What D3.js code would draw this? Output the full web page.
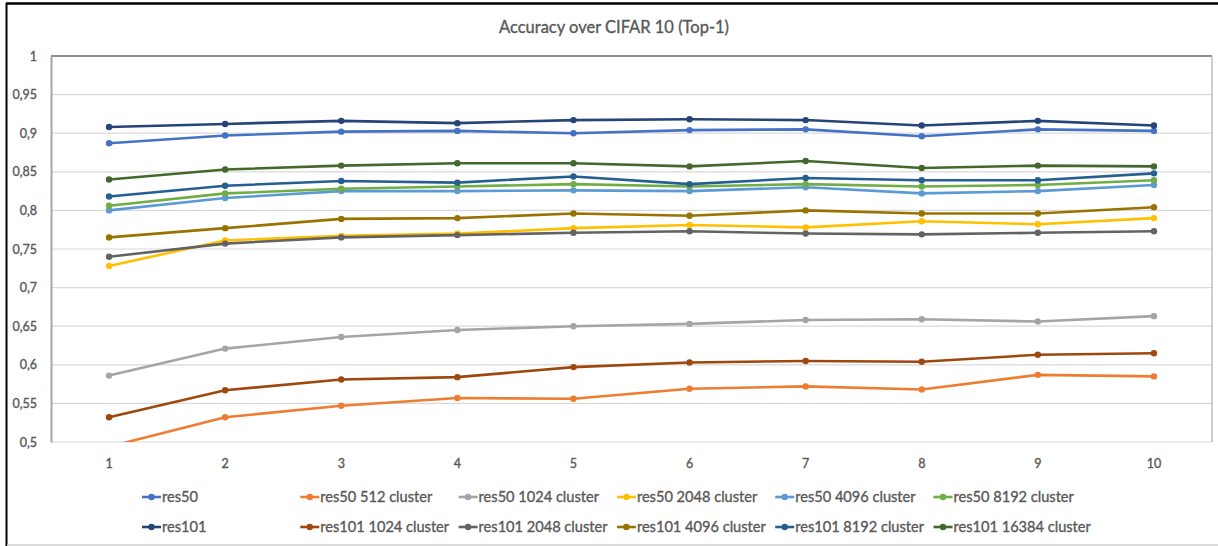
<!DOCTYPE html>
<html>
<head>
<meta charset="utf-8">
<script src="https://cdn.jsdelivr.net/npm/d3@7"></script>
<style>
  html, body { margin: 0; padding: 0; background: #fff; }
  #chart { width: 1218px; height: 546px; }
  text { font-family: Lato, "Open Sans", sans-serif; fill: #595959; stroke: #595959; stroke-width: 0.35px; }
</style>
</head>
<body>
<div id="chart"></div>
<script>
// Epochs on the x axis
const epochs = ["1", "2", "3", "4", "5", "6", "7", "8", "9", "10"];

// y axis ticks
const yTicks = [0.5, 0.55, 0.6, 0.65, 0.7, 0.75, 0.8, 0.85, 0.9, 0.95, 1];

// series names, in the legend order (column by column, two rows)
const seriesNames = [
    "res50", "res50 512 cluster", "res50 1024 cluster", "res50 2048 cluster",
    "res50 4096 cluster", "res50 8192 cluster",
    "res101", "res101 1024 cluster", "res101 2048 cluster", "res101 4096 cluster",
    "res101 8192 cluster", "res101 16384 cluster"
];

const seriesColors = [
    "#4472C4", "#ED7D31", "#A5A5A5", "#FFC000", "#5B9BD5", "#70AD47",
    "#264478", "#9E480E", "#636363", "#997300", "#255E91", "#43682B"
];

// values
const res50       = [0.887, 0.897, 0.902, 0.903, 0.900, 0.904, 0.905, 0.896, 0.905, 0.903];
const res50_512   = [0.494, 0.532, 0.547, 0.557, 0.556, 0.569, 0.572, 0.568, 0.587, 0.585];
const res50_1024  = [0.586, 0.621, 0.636, 0.645, 0.650, 0.653, 0.658, 0.659, 0.656, 0.663];
const res50_2048  = [0.728, 0.761, 0.767, 0.770, 0.777, 0.781, 0.778, 0.786, 0.782, 0.790];
const res50_4096  = [0.800, 0.816, 0.825, 0.825, 0.826, 0.825, 0.830, 0.822, 0.825, 0.833];
const res50_8192  = [0.806, 0.822, 0.828, 0.831, 0.834, 0.831, 0.834, 0.831, 0.833, 0.839];
const res101      = [0.908, 0.912, 0.916, 0.913, 0.917, 0.918, 0.917, 0.910, 0.916, 0.910];
const res101_1024 = [0.532, 0.567, 0.581, 0.584, 0.597, 0.603, 0.605, 0.604, 0.613, 0.615];
const res101_2048 = [0.740, 0.757, 0.765, 0.768, 0.771, 0.773, 0.770, 0.769, 0.771, 0.773];
const res101_4096 = [0.765, 0.777, 0.789, 0.790, 0.796, 0.793, 0.800, 0.796, 0.796, 0.804];
const res101_8192 = [0.818, 0.832, 0.838, 0.836, 0.844, 0.834, 0.842, 0.839, 0.839, 0.848];
const res101_16384 = [0.840, 0.853, 0.858, 0.861, 0.861, 0.857, 0.864, 0.855, 0.858, 0.857];

const seriesValues = [
    res50, res50_512, res50_1024, res50_2048, res50_4096, res50_8192,
    res101, res101_1024, res101_2048, res101_4096, res101_8192, res101_16384
];

const W = 1218, H = 546;
const plot = { left: 51, right: 1212, top: 56, bottom: 442 };

const svg = d3.select("#chart")
    .append("svg")
    .attr("width", W)
    .attr("height", H);

// outer frame of the screenshot
svg.append("line").attr("x1", 6).attr("x2", W).attr("y1", 3.5).attr("y2", 3.5)
    .attr("stroke", "#000").attr("stroke-width", 2.5);
svg.append("line").attr("x1", 6.5).attr("x2", 6.5).attr("y1", 3).attr("y2", H)
    .attr("stroke", "#000").attr("stroke-width", 2);
svg.append("line").attr("x1", 7).attr("x2", W).attr("y1", 545).attr("y2", 545)
    .attr("stroke", "#cfcfcf").attr("stroke-width", 1.5);

// title
svg.append("text")
    .attr("x", 614)
    .attr("y", 27)
    .attr("dy", "0.35em")
    .attr("text-anchor", "middle")
    .style("font-size", "16.5px")
    .text("Accuracy over CIFAR 10 (Top-1)");

const x = d3.scaleBand()
    .domain(epochs)
    .range([plot.left, plot.right]);
const xc = d => x(d) + x.bandwidth() / 2;

const y = d3.scaleLinear()
    .domain([0.5, 1])
    .range([plot.bottom, plot.top]);

// gridlines
svg.append("g")
    .selectAll("line")
    .data(yTicks.filter(d => d < 1))
    .enter()
    .append("line")
    .attr("x1", plot.left)
    .attr("x2", plot.right)
    .attr("y1", d => y(d))
    .attr("y2", d => y(d))
    .attr("stroke", "#d9d9d9")
    .attr("stroke-width", 1.2);

// plot area border: dark top, grey right
svg.append("line")
    .attr("x1", plot.left).attr("x2", plot.right)
    .attr("y1", y(1)).attr("y2", y(1))
    .attr("stroke", "#1a1a1a").attr("stroke-width", 1.2);
svg.append("line")
    .attr("x1", plot.right).attr("x2", plot.right)
    .attr("y1", y(1)).attr("y2", y(0.5))
    .attr("stroke", "#bfbfbf").attr("stroke-width", 1.5);

// y axis
const yAxis = svg.append("g")
    .attr("transform", `translate(${plot.left},0)`)
    .call(d3.axisLeft(y)
        .tickValues(yTicks)
        .tickSize(0)
        .tickPadding(14)
        .tickFormat(d => String(d).replace(".", ",")));
yAxis.select(".domain")
    .attr("stroke", "#a6a6a6")
    .attr("stroke-width", 2);
yAxis.selectAll("text")
    .style("font-size", "12.5px")
    .style("font-family", "Lato")
    .attr("fill", "#595959");

// x axis
const xAxis = svg.append("g")
    .attr("transform", `translate(0,${plot.bottom})`)
    .call(d3.axisBottom(x).tickSize(0).tickPadding(17));
xAxis.select(".domain").remove();
xAxis.selectAll("text")
    .style("font-size", "12.5px")
    .style("font-family", "Lato")
    .attr("fill", "#595959");

// clip for values under the axis minimum
svg.append("clipPath")
    .attr("id", "plot-clip")
    .append("rect")
    .attr("x", plot.left)
    .attr("y", plot.top - 6)
    .attr("width", plot.right - plot.left)
    .attr("height", plot.bottom - plot.top + 6);

const line = d3.line()
    .x((d, i) => xc(epochs[i]))
    .y(d => y(d));

const seriesG = svg.append("g").attr("clip-path", "url(#plot-clip)");

seriesValues.forEach((vals, s) => {
    const g = seriesG.append("g");
    g.append("path")
        .datum(vals)
        .attr("fill", "none")
        .attr("stroke", seriesColors[s])
        .attr("stroke-width", 2.6)
        .attr("stroke-linejoin", "round")
        .attr("d", line);
    g.selectAll("circle")
        .data(vals)
        .enter()
        .append("circle")
        .attr("cx", (d, i) => xc(epochs[i]))
        .attr("cy", d => y(d))
        .attr("r", 3.2)
        .attr("fill", seriesColors[s]);
});

// legend: 6 columns, 2 rows
const legendX0 = 142, legendColW = 158.3;
const legendRows = [497, 527];

const legend = svg.append("g")
    .selectAll("g")
    .data(seriesNames)
    .enter()
    .append("g")
    .attr("transform", (d, i) =>
        `translate(${legendX0 + (i % 6) * legendColW},${legendRows[Math.floor(i / 6)]})`);

legend.append("line")
    .attr("x1", 0).attr("x2", 19)
    .attr("y1", 0).attr("y2", 0)
    .attr("stroke", (d, i) => seriesColors[i])
    .attr("stroke-width", 2.6);
legend.append("circle")
    .attr("cx", 9.5).attr("cy", 0).attr("r", 3.2)
    .attr("fill", (d, i) => seriesColors[i]);
legend.append("text")
    .attr("x", 20)
    .attr("dy", "0.35em")
    .style("font-size", "14.6px")
    .text(d => d);
</script>
</body>
</html>
